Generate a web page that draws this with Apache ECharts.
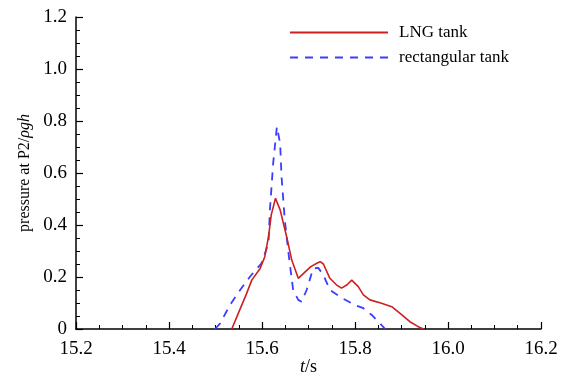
<!DOCTYPE html>
<html>
<head>
    <meta charset="UTF-8">
    <title>pressure at P2</title>
    <script src="https://cdn.jsdelivr.net/npm/echarts@6/dist/echarts.min.js"></script>
    <style>
        body { margin: 0; background: #fff; }
        #container { width: 567px; height: 380px; }
    </style>
</head>
<body>
<div id="container"></div>
<script>
    // LNG tank (red, solid)
    var lngT = [15.535, 15.549, 15.567, 15.578, 15.596, 15.606, 15.614, 15.620, 15.629, 15.639,
        15.653, 15.664, 15.678, 15.690, 15.705, 15.718, 15.725, 15.732, 15.746, 15.760,
        15.771, 15.783, 15.793, 15.807, 15.818, 15.832, 15.857, 15.879, 15.897, 15.918,
        15.936, 15.947];
    var lngP = [0, 0.060, 0.137, 0.188, 0.233, 0.278, 0.355, 0.440, 0.503, 0.458,
        0.355, 0.265, 0.195, 0.215, 0.240, 0.253, 0.259, 0.250, 0.195, 0.170,
        0.157, 0.170, 0.188, 0.163, 0.131, 0.112, 0.099, 0.086, 0.060, 0.028,
        0.009, 0];

    // rectangular tank (blue, dashed)
    var rectT = [15.499, 15.510, 15.531, 15.553, 15.574, 15.599, 15.614, 15.617, 15.624, 15.632,
        15.639, 15.642, 15.649, 15.657, 15.667, 15.678, 15.685, 15.696, 15.710, 15.721,
        15.732, 15.746, 15.771, 15.800, 15.818, 15.836, 15.850, 15.865];
    var rectP = [0, 0.022, 0.092, 0.150, 0.201, 0.253, 0.330, 0.458, 0.637, 0.778,
        0.714, 0.586, 0.419, 0.291, 0.150, 0.112, 0.105, 0.150, 0.233, 0.235,
        0.208, 0.150, 0.120, 0.092, 0.080, 0.054, 0.028, 0];

    var xTicks = ['15.2', '15.4', '15.6', '15.8', '16.0', '16.2'];
    var yTicks = ['0', '0.2', '0.4', '0.6', '0.8', '1.0', '1.2'];

    function pairs(xs, ys) {
        var out = [];
        for (var i = 0; i < xs.length; i++) out.push([xs[i], ys[i]]);
        return out;
    }

    var font = 'Liberation Serif';
    var axisCommon = {
        axisLine: { lineStyle: { color: '#000', width: 1.5 } },
        axisTick: { inside: true, length: 7, lineStyle: { color: '#000', width: 1.2 } },
        minorTick: { show: true, splitNumber: 4, length: 4, lineStyle: { color: '#000', width: 1 } },
        splitLine: { show: false },
        minorSplitLine: { show: false }
    };

    var mychart = echarts.init(document.getElementById('container'));
    var option = {
        animation: false,
        textStyle: { fontFamily: font },
        grid: { left: 76, right: 26, top: 17, bottom: 51, containLabel: false, outerBoundsMode: 'none' },
        legend: {
            orient: 'vertical',
            left: 289,
            top: 24,
            padding: 0,
            itemWidth: 98,
            itemHeight: 14,
            itemGap: 8,
            itemStyle: { opacity: 0 },
            textStyle: { fontFamily: font, fontSize: 17, color: '#000', padding: [0, 0, 0, 6] },
            data: ['LNG tank', 'rectangular tank']
        },
        xAxis: Object.assign({
            type: 'value',
            min: 15.2, max: 16.2, interval: 0.2,
            name: '{i|t}/s',
            nameLocation: 'middle',
            nameMoveOverlap: false,
            nameGap: 29,
            nameTextStyle: {
                fontFamily: font, fontSize: 18, color: '#000',
                rich: { i: { fontFamily: font, fontSize: 18, fontStyle: 'italic', color: '#000' } }
            },
            axisLabel: {
                color: '#000', fontFamily: font, fontSize: 19, margin: 11,
                formatter: function (v) { return xTicks[Math.round((v - 15.2) / 0.2)]; }
            }
        }, axisCommon),
        yAxis: Object.assign({
            type: 'value',
            min: 0, max: 1.2, interval: 0.2,
            name: 'pressure at P2/{i|ρgh}',
            nameLocation: 'middle',
            nameGap: 38,
            nameTextStyle: {
                fontFamily: font, fontSize: 16, color: '#000',
                rich: { i: { fontFamily: font, fontSize: 16, fontStyle: 'italic', color: '#000' } }
            },
            axisLabel: {
                color: '#000', fontFamily: font, fontSize: 19, margin: 9,
                formatter: function (v) { return yTicks[Math.round(v / 0.2)]; }
            }
        }, axisCommon),
        series: [
            {
                name: 'LNG tank',
                type: 'line',
                symbol: 'none',
                data: pairs(lngT, lngP),
                lineStyle: { color: '#cc2020', width: 1.6 },
                itemStyle: { color: '#cc2020' },
                z: 3
            },
            {
                name: 'rectangular tank',
                type: 'line',
                symbol: 'none',
                data: pairs(rectT, rectP),
                lineStyle: { color: '#3c3cff', width: 1.8, type: [8, 7] },
                itemStyle: { color: '#3c3cff' },
                z: 2
            }
        ]
    };
    mychart.setOption(option);
</script>
</body>
</html>
